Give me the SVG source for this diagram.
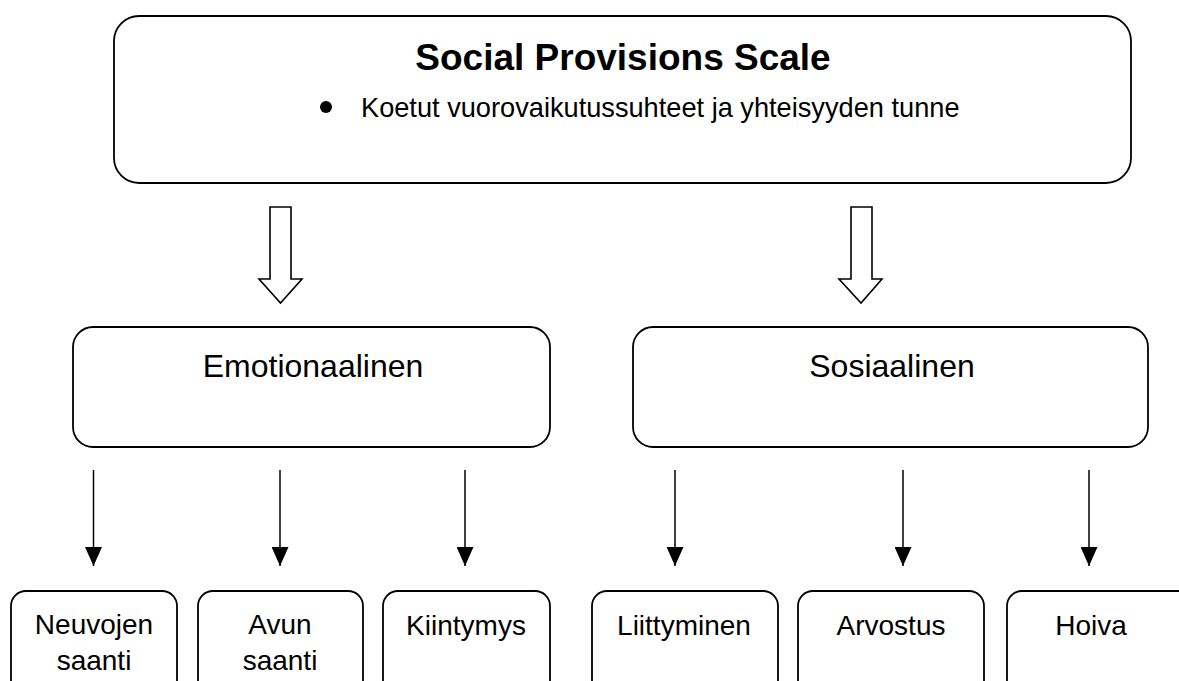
<svg xmlns="http://www.w3.org/2000/svg" width="1179" height="681" viewBox="0 0 1179 681">
<style>
.box{fill:#fff;stroke:#000;stroke-width:1.8}
.t{font-family:"Liberation Sans",Arial,sans-serif;fill:#000;text-anchor:middle}
.ln{stroke:#000;stroke-width:1.5;fill:none}
.ha{fill:#fff;stroke:#000;stroke-width:1.6;stroke-linejoin:miter}
</style>
<defs>
<marker id="ah" markerWidth="19" markerHeight="17" refX="19" refY="8.5" orient="auto" markerUnits="userSpaceOnUse" viewBox="0 0 19 17">
<path d="M0,0 L19,8.5 L0,17 Z" fill="#000"/>
</marker>
</defs>
<rect width="1179" height="681" fill="#fff"/>
<g id="top">
<rect class="box" x="114" y="16" width="1017" height="167" rx="25"/>
<text class="t" x="623" y="70" font-size="37" font-weight="bold">Social Provisions Scale</text>
<circle cx="326" cy="107" r="6" fill="#000"/>
<text class="t" x="361" y="117" font-size="27.2" style="text-anchor:start">Koetut vuorovaikutussuhteet ja yhteisyyden tunne</text>
</g>
<g id="emotionaalinen">
<rect class="box" x="73" y="327" width="477" height="120" rx="20"/>
<text class="t" x="313" y="377" font-size="32">Emotionaalinen</text>
</g>
<g id="sosiaalinen">
<rect class="box" x="633" y="327" width="515" height="120" rx="20"/>
<text class="t" x="892" y="377" font-size="32">Sosiaalinen</text>
</g>
<g id="neuvojen">
<rect class="box" x="11" y="591" width="166" height="110" rx="15"/>
<text class="t" x="94" y="634" font-size="28">Neuvojen</text>
<text class="t" x="94" y="670" font-size="28">saanti</text>
</g>
<g id="avun">
<rect class="box" x="198" y="591" width="165" height="110" rx="15"/>
<text class="t" x="280" y="634" font-size="28">Avun</text>
<text class="t" x="280" y="670" font-size="28">saanti</text>
</g>
<g id="kiintymys">
<rect class="box" x="383" y="591" width="167" height="110" rx="15"/>
<text class="t" x="466" y="635" font-size="28">Kiintymys</text>
</g>
<g id="liittyminen">
<rect class="box" x="592" y="591" width="186" height="110" rx="15"/>
<text class="t" x="684" y="635" font-size="28">Liittyminen</text>
</g>
<g id="arvostus">
<rect class="box" x="798" y="591" width="186" height="110" rx="15"/>
<text class="t" x="891" y="635" font-size="28">Arvostus</text>
</g>
<g id="hoiva">
<rect class="box" x="1007" y="591" width="200" height="110" rx="15"/>
<text class="t" x="1091" y="635" font-size="28">Hoiva</text>
</g>
<g id="connectors">
<path class="ha" d="M270,207 L291,207 L291,279 L302,279 L280.5,303 L259,279 L270,279 Z"/>
<path class="ha" d="M851,207 L872,207 L872,279 L882,279 L861,303 L839,279 L851,279 Z"/>
<line class="ln" x1="93.5" y1="470" x2="93.5" y2="566" marker-end="url(#ah)"/>
<line class="ln" x1="280" y1="470" x2="280" y2="566" marker-end="url(#ah)"/>
<line class="ln" x1="465" y1="470" x2="465" y2="566" marker-end="url(#ah)"/>
<line class="ln" x1="675" y1="470" x2="675" y2="566" marker-end="url(#ah)"/>
<line class="ln" x1="903" y1="470" x2="903" y2="566" marker-end="url(#ah)"/>
<line class="ln" x1="1089" y1="470" x2="1089" y2="566" marker-end="url(#ah)"/>
</g>
</svg>
